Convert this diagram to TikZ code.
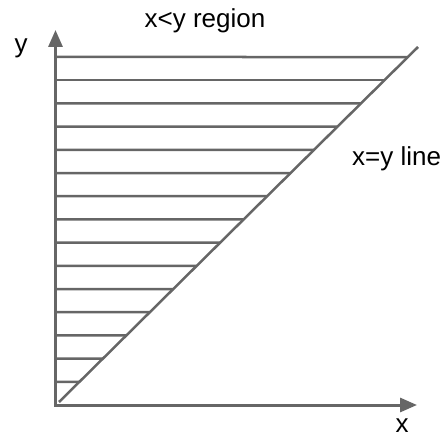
\documentclass[tikz,border=0pt]{standalone}
\usepackage{fontspec}
\setmainfont{Liberation Sans}
\usetikzlibrary{arrows.meta,calc}
\definecolor{axisgray}{HTML}{666666}
\begin{document}
\begin{tikzpicture}[x=1pt,y=-1pt,
  axisline/.style={draw=axisgray,line width=3pt,-{Triangle[length=17pt,width=14pt]}},
  hatchline/.style={draw=axisgray,line width=2.5pt},
  diagline/.style={draw=axisgray,line width=2.5pt},
  lbl/.style={font=\fontsize{26}{30}\selectfont,inner sep=0pt,anchor=base}]
\useasboundingbox (0,0) rectangle (443,438);
% axes
\coordinate (o) at (55.5,406.5);
\coordinate (oh) at (54,405);
\coordinate (ytip) at (55.5,30);
\coordinate (xtip) at (417,405);
\draw[axisline] (o) -- (ytip);
\draw[axisline] (oh) -- (xtip);
% diagonal
\coordinate (d0) at (59,402);
\coordinate (d1) at (418,47);
\draw[diagline] (d0) -- (d1);
% hatching
\foreach \yy in {57,80.2,103.4,126.6,149.8,173,196.2,219.4,242.6,265.8,289,312.2,335.4,358.6,381.8}{
  \coordinate (hs) at (57,\yy);
  \coordinate (he) at ($(d0)!{(402-\yy)/355}!(d1)$);
  \draw[hatchline] (hs) -- (he);
}
% labels
\node[lbl] (region) at (205,28) {x<y region};
\node[lbl,anchor=base west] (diag) at (352,165) {x=y line};
\node[lbl] (ylab) at (21,53) {y};
\node[lbl] (xlab) at (402,432) {x};
\end{tikzpicture}
\end{document}
